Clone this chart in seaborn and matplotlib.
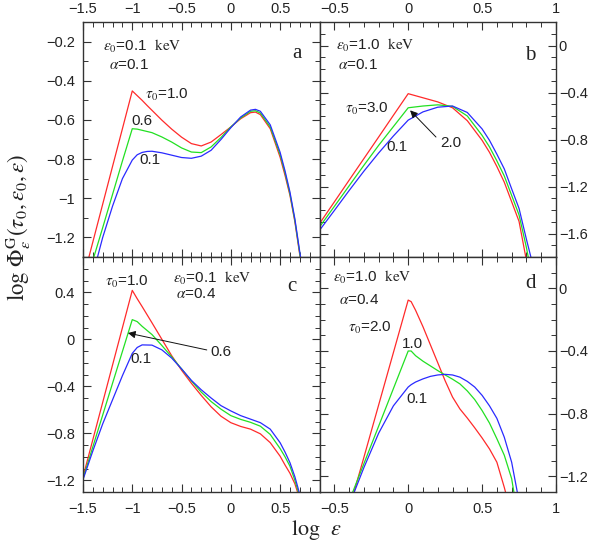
import matplotlib
matplotlib.use("Agg")
import matplotlib.pyplot as plt
import numpy as np
import pandas as pd
import seaborn as sns
from matplotlib.ticker import MultipleLocator, FuncFormatter

# ---------------- data ----------------
a_x = [-1.5, -1.4, -1.3, -1.2, -1.1, -1.0, -0.95, -0.9, -0.85, -0.8, -0.7, -0.6, -0.5, -0.4, -0.3,
       -0.2, -0.1, 0.0, 0.1, 0.2, 0.25, 0.3, 0.4, 0.5, 0.55, 0.6, 0.65, 0.7, 0.75]
a_red = [-1.416, -1.223, -1.030, -0.837, -0.645, -0.452, -0.476, -0.500, -0.526, -0.551, -0.601,
         -0.647, -0.688, -0.721, -0.733, -0.713, -0.675, -0.636, -0.594, -0.563, -0.560, -0.573,
         -0.645, -0.790, -0.883, -0.985, -1.120, -1.290, -1.450]
a_green = [-1.485, -1.317, -1.150, -0.980, -0.810, -0.645, -0.647, -0.653, -0.659, -0.665, -0.687,
           -0.713, -0.743, -0.764, -0.767, -0.738, -0.690, -0.636, -0.590, -0.556, -0.553, -0.565,
           -0.636, -0.777, -0.870, -0.977, -1.113, -1.283, -1.440]
a_blue = [-1.600, -1.390, -1.200, -1.040, -0.900, -0.805, -0.778, -0.766, -0.761, -0.760, -0.768,
          -0.780, -0.792, -0.796, -0.785, -0.755, -0.700, -0.640, -0.585, -0.550, -0.546, -0.556,
          -0.625, -0.765, -0.860, -0.968, -1.105, -1.275, -1.430]
a_tau = ["1.0", "0.6", "0.1"]

b_x = [-0.6, -0.5, -0.4, -0.3, -0.2, -0.1, 0.0, 0.1, 0.2, 0.3, 0.4, 0.5, 0.55, 0.6, 0.65, 0.7,
       0.75, 0.8, 0.85]
b_red = [-1.516, -1.332, -1.147, -0.963, -0.779, -0.594, -0.410, -0.445, -0.480, -0.530, -0.640,
         -0.807, -0.909, -1.030, -1.163, -1.330, -1.497, -1.830, -2.200]
b_green = [-1.545, -1.370, -1.195, -1.020, -0.850, -0.690, -0.530, -0.515, -0.505, -0.518, -0.600,
           -0.765, -0.863, -0.982, -1.110, -1.276, -1.442, -1.720, -2.050]
b_blue = [-1.573, -1.405, -1.235, -1.070, -0.915, -0.770, -0.635, -0.565, -0.525, -0.515, -0.570,
          -0.710, -0.807, -0.925, -1.050, -1.220, -1.387, -1.650, -1.900]
b_tau = ["3.0", "2.0", "0.1"]

c_x = [-1.5, -1.4, -1.3, -1.2, -1.1, -1.0, -0.95, -0.9, -0.8, -0.7, -0.6, -0.5, -0.4, -0.3, -0.2,
       -0.1, 0.0, 0.1, 0.2, 0.3, 0.4, 0.5, 0.55, 0.6, 0.65, 0.7, 0.75]
c_red = [-1.172, -0.854, -0.537, -0.219, 0.098, 0.416, 0.345, 0.278, 0.140, 0.000, -0.140, -0.263,
         -0.375, -0.478, -0.575, -0.655, -0.710, -0.742, -0.765, -0.805, -0.880, -0.995, -1.070,
         -1.140, -1.230, -1.360, -1.500]
c_green = [-1.186, -0.915, -0.645, -0.374, -0.104, 0.167, 0.150, 0.110, 0.040, -0.053, -0.150,
           -0.252, -0.355, -0.450, -0.530, -0.595, -0.650, -0.682, -0.707, -0.740, -0.810, -0.930,
           -1.000, -1.080, -1.200, -1.340, -1.500]
c_blue = [-1.195, -0.950, -0.720, -0.515, -0.310, -0.120, -0.070, -0.048, -0.050, -0.090, -0.160,
          -0.252, -0.350, -0.430, -0.500, -0.565, -0.610, -0.650, -0.680, -0.710, -0.765, -0.880,
          -0.960, -1.050, -1.170, -1.320, -1.480]
c_tau = ["1.0", "0.6", "0.1"]

d_x = [-0.6, -0.5, -0.4, -0.3, -0.2, -0.1, 0.0, 0.02, 0.05, 0.1, 0.15, 0.2, 0.25, 0.3, 0.35, 0.4,
       0.45, 0.5, 0.55, 0.6, 0.65, 0.7, 0.75, 0.8]
d_red = [-2.080, -1.750, -1.410, -1.080, -0.745, -0.410, -0.075, -0.085, -0.140, -0.245, -0.360,
         -0.475, -0.590, -0.694, -0.770, -0.828, -0.890, -0.955, -1.025, -1.110, -1.270, -1.450,
         -1.650, -1.900]
d_green = [-1.840, -1.600, -1.360, -1.120, -0.880, -0.640, -0.400, -0.400, -0.430, -0.465, -0.495,
           -0.525, -0.553, -0.580, -0.610, -0.655, -0.710, -0.780, -0.860, -0.960, -1.065, -1.215,
           -1.500, -1.800]
d_blue = [-1.900, -1.630, -1.385, -1.145, -0.925, -0.750, -0.630, -0.615, -0.598, -0.578, -0.562,
          -0.553, -0.549, -0.553, -0.567, -0.594, -0.630, -0.683, -0.750, -0.830, -0.950, -1.110,
          -1.360, -1.700]
d_tau = ["2.0", "1.0", "0.1"]

# ---------------- style ----------------
sns.set_theme(style="ticks")
plt.rcParams["font.family"] = ["Liberation Sans", "DejaVu Sans"]
plt.rcParams["mathtext.fontset"] = "stix"
plt.rcParams["axes.unicode_minus"] = True

LINE_COLORS = ["#ff2a2a", "#22e022", "#2a2aff"]
SPINE = "#333333"
TXT = "#222222"


def fmt(v, pos):
    v = round(v, 2) + 0.0
    return f"{v:g}".replace("-", "\u2212")


fig = plt.figure(figsize=(6.01, 5.45), dpi=100)
gs = fig.add_gridspec(2, 2, left=83 / 601, right=556 / 601, top=1 - 22 / 545,
                      bottom=1 - 492 / 545, wspace=0, hspace=0)

panels = [
    dict(pos=(0, 0), x=a_x, ys=[a_red, a_green, a_blue], tau=a_tau,
         xlim=(-1.5, 0.9), ylim=(-1.3, -0.1), ymaj=0.2, side="left", xside="top"),
    dict(pos=(0, 1), x=b_x, ys=[b_red, b_green, b_blue], tau=b_tau,
         xlim=(-0.6, 1.0), ylim=(-1.8, 0.2), ymaj=0.4, side="right", xside="top"),
    dict(pos=(1, 0), x=c_x, ys=[c_red, c_green, c_blue], tau=c_tau,
         xlim=(-1.5, 0.9), ylim=(-1.3, 0.7), ymaj=0.4, side="left", xside="bottom"),
    dict(pos=(1, 1), x=d_x, ys=[d_red, d_green, d_blue], tau=d_tau,
         xlim=(-0.6, 1.0), ylim=(-1.3, 0.2), ymaj=0.4, side="right", xside="bottom"),
]

axes = []
for p in panels:
    ax = fig.add_subplot(gs[p["pos"]])
    frames = []
    for t, y in zip(p["tau"], p["ys"]):
        frames.append(pd.DataFrame({"x": p["x"], "y": y, "tau": t}))
    df = pd.concat(frames, ignore_index=True)
    pal = dict(zip(p["tau"], LINE_COLORS))
    sns.lineplot(data=df, x="x", y="y", hue="tau", palette=pal, estimator=None,
                 sort=False, legend=False, lw=0.9, ax=ax)
    ax.set_xlim(*p["xlim"])
    ax.set_ylim(*p["ylim"])
    ax.set_xlabel("")
    ax.set_ylabel("")
    ax.xaxis.set_major_locator(MultipleLocator(0.5))
    ax.xaxis.set_minor_locator(MultipleLocator(0.1))
    ax.yaxis.set_major_locator(MultipleLocator(p["ymaj"]))
    ax.yaxis.set_minor_locator(MultipleLocator(0.1))
    ax.xaxis.set_major_formatter(FuncFormatter(fmt))
    ax.yaxis.set_major_formatter(FuncFormatter(fmt))
    ax.tick_params(which="both", direction="in", top=True, bottom=True, left=True, right=True,
                   color=SPINE, labelcolor=TXT, labelsize=10.5)
    ax.tick_params(which="major", length=6, width=0.8)
    ax.tick_params(which="minor", length=3.5, width=0.7)
    ax.tick_params(axis="y", labelleft=(p["side"] == "left"), labelright=(p["side"] == "right"))
    ax.tick_params(axis="x", labeltop=(p["xside"] == "top"), labelbottom=(p["xside"] == "bottom"))
    ax.tick_params(axis="y", which="major", pad=6 if p["side"] == "left" else 2)
    ax.tick_params(axis="x", which="major", pad=7 if p["xside"] == "bottom" else 4)
    for s in ax.spines.values():
        s.set_color(SPINE)
        s.set_linewidth(1.0)
    axes.append(ax)

ax_a, ax_b, ax_c, ax_d = axes
fs = 11
kev = r"$\mathrm{keV}$"
EPS0 = r"$\varepsilon_0$"

def lab(ax, x, y, s, size=fs, family=None, ha="left"):
    kw = {}
    if family:
        kw["family"] = family
    ax.text(x, y, s, ha=ha, va="center", fontsize=size, color=TXT, **kw)

# panel a
lab(ax_a, -1.30, -0.223, EPS0 + "=0.1  " + kev)
lab(ax_a, -1.24, -0.320, r"$\alpha$=0.1")
lab(ax_a, 0.667, -0.263, "a", size=15, family="Liberation Serif", ha="center")
lab(ax_a, -0.87, -0.473, r"$\tau_0$=1.0")
lab(ax_a, -1.005, -0.606, "0.6")
lab(ax_a, -0.925, -0.805, "0.1")

# panel b
lab(ax_b, -0.487, 0.004, EPS0 + "=1.0  " + kev)
lab(ax_b, -0.478, -0.166, r"$\alpha$=0.1")
lab(ax_b, 0.824, -0.081, "b", size=15, family="Liberation Serif", ha="center")
lab(ax_b, -0.43, -0.54, r"$\tau_0$=3.0")
lab(ax_b, -0.146, -0.864, "0.1")
lab(ax_b, 0.214, -0.83, "2.0")
ax_b.annotate("", xy=(0.013, -0.552), xytext=(0.188, -0.779),
              arrowprops=dict(arrowstyle="-|>", color="#111111", lw=0.7,
                              mutation_scale=11, shrinkA=0, shrinkB=0))

# panel c
lab(ax_c, -1.277, 0.487, r"$\tau_0$=1.0")
lab(ax_c, -0.589, 0.521, EPS0 + "=0.1  " + kev)
lab(ax_c, -0.558, 0.385, r"$\alpha$=0.4")
lab(ax_c, 0.616, 0.453, "c", size=15, family="Liberation Serif", ha="center")
lab(ax_c, -0.204, -0.109, "0.6")
lab(ax_c, -1.024, -0.168, "0.1")
ax_c.annotate("", xy=(-1.044, 0.053), xytext=(-0.244, -0.091),
              arrowprops=dict(arrowstyle="-|>", color="#111111", lw=0.7,
                              mutation_scale=11, shrinkA=0, shrinkB=0))

# panel d
lab(ax_d, -0.512, 0.072, EPS0 + "=1.0  " + kev)
lab(ax_d, -0.471, -0.074, r"$\alpha$=0.4")
lab(ax_d, 0.83, 0.034, "d", size=15, family="Liberation Serif", ha="center")
lab(ax_d, -0.41, -0.253, r"$\tau_0$=2.0")
lab(ax_d, -0.044, -0.355, "1.0")
lab(ax_d, -0.01, -0.706, "0.1")

# axis titles
fig.text(18 / 601, 1 - 228 / 545,
         r"$\mathrm{log}\ \Phi_{\varepsilon}^{\mathrm{G}}(\tau_0,\varepsilon_0,\varepsilon)$",
         rotation=90, ha="center", va="center", fontsize=16.5, color=TXT)
fig.text(316 / 601, 1 - 530 / 545, r"$\mathrm{log}\ \ \varepsilon$", ha="center", va="center",
         fontsize=16, color=TXT)

fig.savefig("out.png", dpi=100)
